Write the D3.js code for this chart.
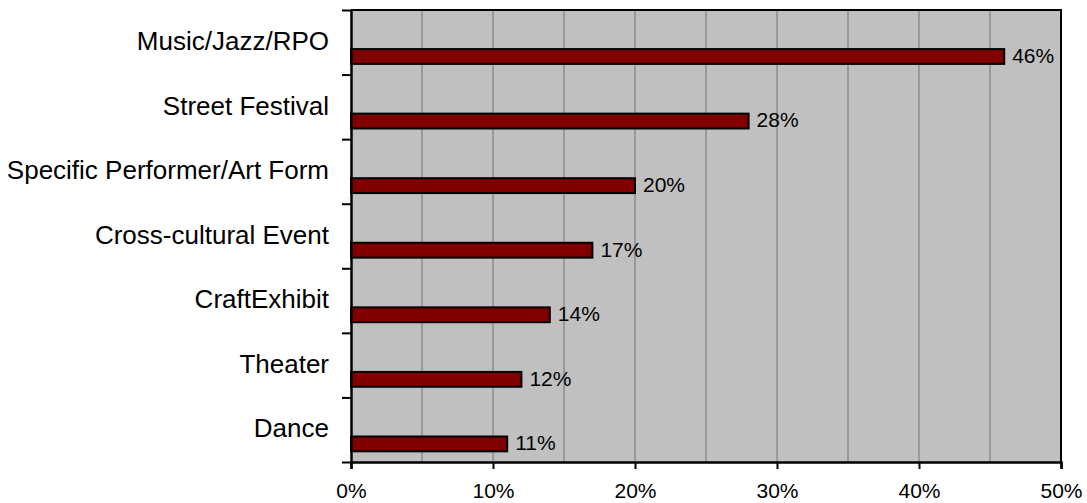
<!DOCTYPE html>
<html lang="en">
<head>
    <meta charset="UTF-8">
    <title>Event interest</title>
    <script src="https://d3js.org/d3.v7.min.js"></script>
    <style>
        body { margin: 0; background: #fff; }
        text { font-family: 'Liberation Sans', Arial, sans-serif; fill: #000; }
    </style>
</head>
<body>
<script>
    const width  = 1087;
    const height = 503;
    const margin = {top: 10, right: 26, bottom: 41, left: 351};

    const categories = ["Music/Jazz/RPO", "Street Festival", "Specific Performer/Art Form",
                        "Cross-cultural Event", "CraftExhibit", "Theater", "Dance"];
    const values = [0.46, 0.28, 0.20, 0.17, 0.14, 0.12, 0.11];
    const xTicks = [0, 0.1, 0.2, 0.3, 0.4, 0.5];
    const gridTicks = [0.05, 0.1, 0.15, 0.2, 0.25, 0.3, 0.35, 0.4, 0.45];

    const x = d3.scaleLinear()
                .domain([0, 0.5])
                .range([margin.left, width - margin.right]);

    const y = d3.scaleBand()
                .domain(categories)
                .range([margin.top, height - margin.bottom]);

    const svg = d3.select("body")
                  .append("svg").attr("width", width).attr("height", height);

    // plot background
    svg.append("rect")
       .attr("x", x(0)).attr("y", y.range()[0])
       .attr("width", x(0.5) - x(0)).attr("height", y.range()[1] - y.range()[0])
       .attr("fill", "#c0c0c0");

    // vertical gridlines
    svg.selectAll(".grid").data(gridTicks).join("line")
       .attr("x1", d => x(d)).attr("x2", d => x(d))
       .attr("y1", y.range()[0]).attr("y2", y.range()[1])
       .attr("stroke", "#999").attr("stroke-width", 2);

    // border top/right
    svg.append("path")
       .attr("d", "M" + x(0) + "," + y.range()[0] + "H" + x(0.5) + "V" + y.range()[1])
       .attr("fill", "none").attr("stroke", "#000").attr("stroke-width", 2);

    // bars
    const barOff = y.step() * 0.605;
    const barH = y.step() * 0.23;
    svg.selectAll(".bar").data(values).join("rect")
       .attr("x", x(0))
       .attr("y", (d, i) => y(categories[i]) + barOff)
       .attr("width", d => x(d) - x(0))
       .attr("height", barH)
       .attr("fill", "#800000")
       .attr("stroke", "#000").attr("stroke-width", 2);

    // value labels
    svg.selectAll(".val").data(values).join("text")
       .attr("x", d => x(d) + 8)
       .attr("y", (d, i) => y(categories[i]) + barOff + barH - 1)
       .attr("font-size", "21px")
       .text(d => d3.format(".0%")(d));

    // category labels
    svg.selectAll(".cat").data(categories).join("text")
       .attr("x", margin.left - 22)
       .attr("y", d => y(d) + 40)
       .attr("text-anchor", "end")
       .attr("font-size", "26px")
       .text(d => d);

    // x axis
    const xAxis = svg.append("g")
       .attr("transform", "translate(0," + y.range()[1] + ")")
       .call(d3.axisBottom(x).tickValues(xTicks).tickFormat(d3.format(".0%")).tickSize(7).tickPadding(14));
    xAxis.select(".domain").attr("stroke-width", 2.5);
    xAxis.selectAll(".tick line").attr("stroke-width", 2);
    xAxis.selectAll("text").attr("font-size", "21px").attr("font-family", "'Liberation Sans', Arial, sans-serif");

    // y axis with ticks at band boundaries
    const yLin = d3.scaleLinear().domain([0, categories.length]).range(y.range());
    const yAxis = svg.append("g")
       .attr("transform", "translate(" + x(0) + ",0)")
       .call(d3.axisLeft(yLin).ticks(categories.length).tickFormat("").tickSize(9).tickSizeOuter(0));
    yAxis.select(".domain").attr("stroke-width", 2.5);
    yAxis.selectAll(".tick line").attr("stroke-width", 2);
</script>
</body>
</html>
